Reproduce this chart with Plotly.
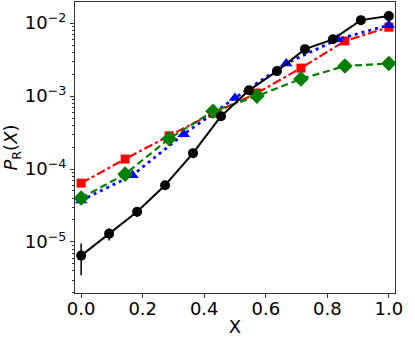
import math
import plotly.graph_objects as go

# %%
# datos
x_black = [0, 1/11, 2/11, 3/11, 4/11, 5/11, 6/11, 7/11, 8/11, 9/11, 10/11, 1.0]
y_black = [6.5e-6, 1.3e-5, 2.6e-5, 6.0e-5, 1.65e-4, 5.3e-4, 1.2e-3, 2.2e-3, 4.4e-3, 6.0e-3, 1.1e-2, 1.25e-2]
err_up_black = [3.0e-6, 2.5e-6, 4.0e-6, 5e-6, 0, 0, 0, 0, 0, 0, 0, 0]
err_dn_black = [3.0e-6, 2.5e-6, 4.0e-6, 5e-6, 0, 0, 0, 0, 0, 0, 0, 0]

x_red = [0, 1/7, 2/7, 3/7, 4/7, 5/7, 6/7, 1.0]
y_red = [6.4e-5, 1.37e-4, 2.85e-4, 5.8e-4, 1.1e-3, 2.42e-3, 5.7e-3, 8.8e-3]

x_green = [0, 1/7, 2/7, 3/7, 4/7, 5/7, 6/7, 1.0]
y_green = [4.0e-5, 8.5e-5, 2.6e-4, 6.2e-4, 1.0e-3, 1.72e-3, 2.58e-3, 2.8e-3]

x_blue = [0, 1/6, 2/6, 3/6, 4/6, 5/6, 1.0]
y_blue = [3.7e-5, 8.2e-5, 3.0e-4, 9.4e-4, 2.8e-3, 6.0e-3, 9.4e-3]

umbral = 2.25e-4

x_ticks = [0.0, 0.2, 0.4, 0.6, 0.8, 1.0]
x_ticktext = ["0.0", "0.2", "0.4", "0.6", "0.8", "1.0"]
y_ticks = [1e-5, 1e-4, 1e-3, 1e-2]
y_ticktext = ["10<sup>\u22125</sup>", "10<sup>\u22124</sup>", "10<sup>\u22123</sup>", "10<sup>\u22122</sup>"]
y_minor = [k * 10.0 ** e for e in range(-6, -1) for k in range(2, 10)]

# %%
fig = go.Figure()
fig.add_trace(go.Scatter(x=x_red, y=y_red, mode="lines+markers",
                         line=dict(color="#ff0000", width=2.2, dash="dashdot"),
                         marker=dict(symbol="square", size=9, color="#ff0000")))
fig.add_trace(go.Scatter(x=x_blue, y=y_blue, mode="lines+markers",
                         line=dict(color="#0000ff", width=2.8, dash="3px,4px"),
                         marker=dict(symbol="triangle-up", size=11, color="#0000ff")))
fig.add_trace(go.Scatter(x=x_green, y=y_green, mode="lines+markers",
                         line=dict(color="#008000", width=2.2, dash="7px,4px"),
                         marker=dict(symbol="diamond", size=12, color="#008000")))
fig.add_trace(go.Scatter(x=x_black, y=y_black, mode="lines+markers",
                         line=dict(color="black", width=2),
                         marker=dict(symbol="circle", size=10, color="black"),
                         error_y=dict(type="data", array=err_up_black, arrayminus=err_dn_black,
                                      color="black", thickness=1.5, width=0)))

fig.add_shape(type="line", xref="x domain", x0=0, x1=1, yref="y",
              y0=math.log10(umbral), y1=math.log10(umbral),
              line=dict(color="#bf00bf", width=2))

fig.update_xaxes(range=[-0.02, 1.02], tickvals=x_ticks, ticktext=x_ticktext,
                 ticks="outside", ticklen=4, tickcolor="#333", showline=True, linecolor="#333",
                 linewidth=1.2, mirror=True, showgrid=False, zeroline=False, automargin=False,
                 ticklabelstandoff=-5,
                 title=dict(text="X", standoff=4, font=dict(size=18)))
fig.update_yaxes(type="log", range=[-5.70, -1.71], tickvals=y_ticks, ticktext=y_ticktext,
                 ticks="outside", ticklen=4, tickcolor="#333", showline=True, linecolor="#333",
                 linewidth=1.2, mirror=True, showgrid=False, zeroline=False, automargin=False,
                 minor=dict(tickvals=y_minor, ticks="outside", ticklen=2, tickcolor="#333"),
                 title=dict(text="<i>P</i><sub>R</sub>(<i>X</i>)", standoff=6, font=dict(size=18)))
fig.update_layout(width=415, height=337, template=None, showlegend=False,
                  margin=dict(l=75, r=20, t=2, b=44),
                  paper_bgcolor="white", plot_bgcolor="white",
                  font=dict(family="DejaVu Sans", size=18, color="black"))
fig.write_html("out.html", config={"displayModeBar": False},
               post_script="document.body.style.margin='0';")
